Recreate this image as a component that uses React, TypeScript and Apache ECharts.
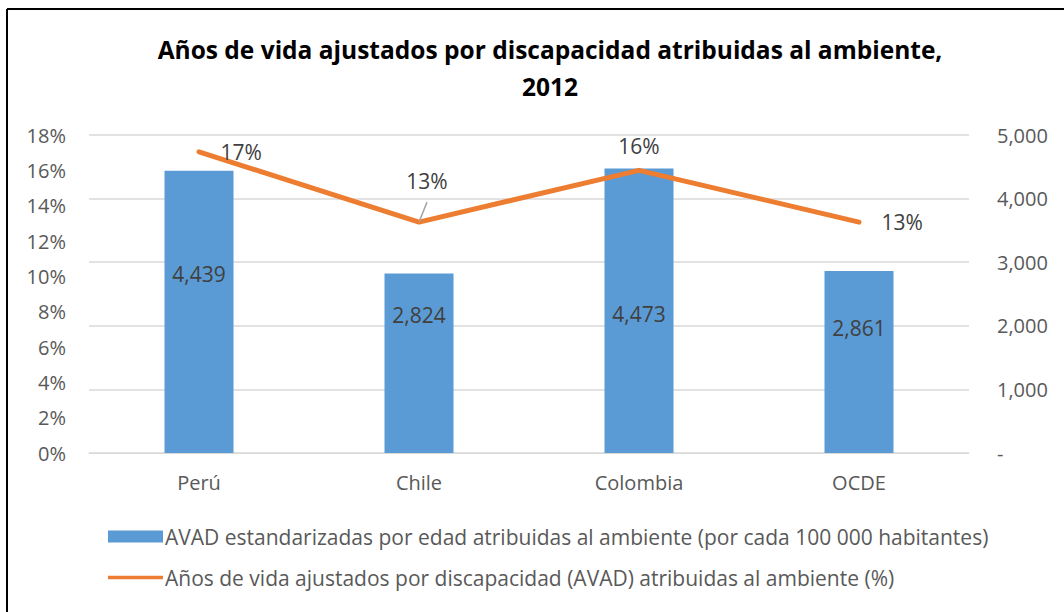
import React, { useEffect, useRef } from "react";
import * as echarts from "echarts";

const categories = ["Perú", "Chile", "Colombia", "OCDE"];
const avadRate = [4439, 2824, 4473, 2861];
const avadShare = [0.1705, 0.1307, 0.16, 0.1307];
const barName = "AVAD estandarizadas por edad atribuidas al ambiente (por cada 100 000 habitantes)";
const lineName = "Años de vida ajustados por discapacidad (AVAD) atribuidas al ambiente (%)";
const titleText = "Años de vida ajustados por discapacidad atribuidas al ambiente,\n2012";

// layout-only: vertical position of each bar label measured from the bar's top
const barLabelDy = [103, 42, 145, 57];
// layout-only: label placement for line points
const lineLabelPos = [
  { position: "right", distance: 21 },
  { position: "top", distance: 30, offset: [8, 0] },
  { position: "top", distance: 13 },
  { position: "right", distance: 22 },
];

const FONT = "Open Sans";

export default function App() {
  const ref = useRef<HTMLDivElement>(null);
  useEffect(() => {
    const chart = echarts.init(ref.current!, null, { renderer: "svg" });
    const fmtNum = (v: number) => (v === 0 ? "-" : v.toLocaleString("en-US"));
    chart.setOption({
      animation: false,
      textStyle: { fontFamily: FONT },
      title: {
        text: titleText,
        left: 545,
        top: 26,
        textAlign: "center",
        textStyle: { fontFamily: FONT, fontWeight: "bold", fontSize: 24.5, color: "#000", lineHeight: 37 },
      },
      grid: { left: 89, right: 95, top: 135, bottom: 159, containLabel: false },
      legend: {
        orient: "vertical",
        left: 103,
        top: 521,
        itemWidth: 55,
        itemHeight: 12,
        itemGap: 20,
        textStyle: { fontFamily: FONT, fontSize: 21, color: "#595959", padding: [0, 0, 0, -3] },
        data: [
          { name: barName, icon: "rect" },
          { name: lineName, icon: "path://M0,0 M0,4 L100,4 L100,10 L0,10 Z M0,14" },
        ],
      },
      xAxis: {
        type: "category",
        data: categories,
        axisTick: { show: false },
        axisLine: { lineStyle: { color: "#d9d9d9" } },
        axisLabel: { fontFamily: FONT, fontSize: 20, color: "#595959", margin: 19 },
      },
      yAxis: [
        {
          type: "value",
          min: 0,
          max: 0.18,
          interval: 0.02,
          splitLine: { show: false },
          axisLine: { show: false },
          axisTick: { show: false },
          axisLabel: {
            fontFamily: FONT,
            fontSize: 20,
            color: "#595959",
            margin: 23,
            formatter: (v: number) => Math.round(v * 100) + "%",
          },
        },
        {
          type: "value",
          min: 0,
          max: 5000,
          interval: 1000,
          position: "right",
          splitLine: { lineStyle: { color: "#d9d9d9", width: 1.5 } },
          axisLine: { show: false },
          axisTick: { show: false },
          axisLabel: { fontFamily: FONT, fontSize: 20, color: "#595959", margin: 28, formatter: fmtNum },
        },
      ],
      series: [
        {
          name: barName,
          type: "bar",
          yAxisIndex: 1,
          barWidth: 69,
          itemStyle: { color: "#5B9BD5" },
          data: avadRate.map((v, i) => ({
            value: v,
            label: {
              show: true,
              position: ["50%", barLabelDy[i]],
              align: "center",
              verticalAlign: "middle",
              fontFamily: FONT,
              fontSize: 21,
              color: "#404040",
              formatter: (p: any) => fmtNum(p.value),
            },
          })),
        },
        {
          name: lineName,
          type: "line",
          yAxisIndex: 0,
          symbol: "circle",
          symbolSize: 1,
          showSymbol: true,
          itemStyle: { color: "#ED7D31" },
          lineStyle: { color: "#ED7D31", width: 5, cap: "round", join: "round" },
          data: avadShare.map((v, i) => ({
            value: v,
            label: {
              show: true,
              ...lineLabelPos[i],
              fontFamily: FONT,
              fontSize: 21,
              color: "#404040",
              formatter: (p: any) => Math.round(p.value * 100) + "%",
            },
            labelLine: i === 1 ? { show: true, lineStyle: { color: "#a6a6a6", width: 1.5 } } : undefined,
          })),
          z: 5,
        },
      ],
      graphic: [
        { type: "line", shape: { x1: 7, y1: 9, x2: 1064, y2: 9 }, style: { stroke: "#000", lineWidth: 2 } },
        { type: "line", shape: { x1: 7, y1: 9, x2: 7, y2: 612 }, style: { stroke: "#000", lineWidth: 2 } },
      ],
    });
    return () => chart.dispose();
  }, []);
  return (
    <div
      ref={ref}
      style={{ position: "fixed", left: 0, top: 0, width: 1064, height: 612, background: "#fff" }}
    />
  );
}
